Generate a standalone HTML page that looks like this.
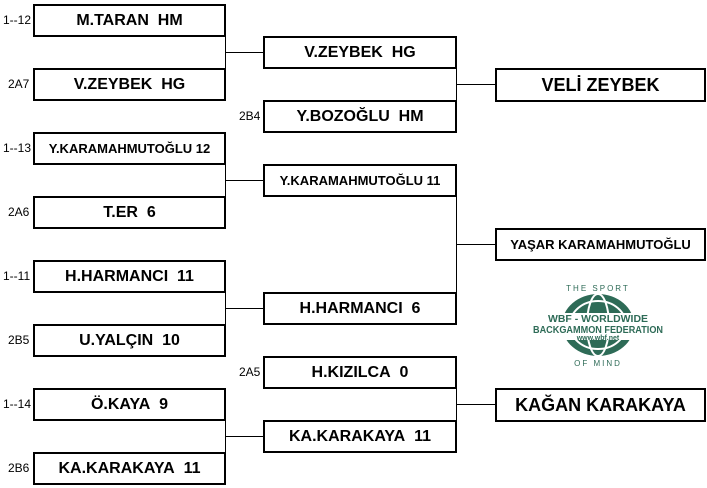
<!DOCTYPE html>
<html><head><meta charset="utf-8"><style>
body{margin:0;width:707px;height:488px;background:#fff;position:relative;overflow:hidden;font-family:"Liberation Sans",Arial,sans-serif}
.b{position:absolute;border:2px solid #000;box-sizing:border-box;display:flex;align-items:center;justify-content:center;font-weight:bold;font-size:16px;color:#000;white-space:nowrap;background:#fff}
.l{position:absolute;font-size:12px;color:#000}
.h{position:absolute;height:1px;background:#000}
.v{position:absolute;width:1px;background:#000}
</style></head><body>
<div class="b" style="left:33px;top:4px;width:193px;height:33px">M.TARAN&nbsp; HM</div>
<div class="b" style="left:33px;top:68px;width:193px;height:33px">V.ZEYBEK&nbsp; HG</div>
<div class="b" style="left:33px;top:132px;width:193px;height:33px;font-size:13px">Y.KARAMAHMUTOĞLU 12</div>
<div class="b" style="left:33px;top:196px;width:193px;height:33px">T.ER&nbsp; 6</div>
<div class="b" style="left:33px;top:260px;width:193px;height:33px">H.HARMANCI&nbsp; 11</div>
<div class="b" style="left:33px;top:324px;width:193px;height:33px">U.YALÇIN&nbsp; 10</div>
<div class="b" style="left:33px;top:388px;width:193px;height:33px">Ö.KAYA&nbsp; 9</div>
<div class="b" style="left:33px;top:452px;width:193px;height:33px">KA.KARAKAYA&nbsp; 11</div>
<div class="l" style="left:3px;top:13px">1--12</div>
<div class="l" style="left:8px;top:77px">2A7</div>
<div class="l" style="left:3px;top:141px">1--13</div>
<div class="l" style="left:8px;top:205px">2A6</div>
<div class="l" style="left:3px;top:269px">1--11</div>
<div class="l" style="left:8px;top:333px">2B5</div>
<div class="l" style="left:3px;top:397px">1--14</div>
<div class="l" style="left:8px;top:461px">2B6</div>
<div class="b" style="left:263px;top:36px;width:194px;height:33px">V.ZEYBEK&nbsp; HG</div>
<div class="b" style="left:263px;top:100px;width:194px;height:33px">Y.BOZOĞLU&nbsp; HM</div>
<div class="b" style="left:263px;top:164px;width:194px;height:33px;font-size:13px">Y.KARAMAHMUTOĞLU 11</div>
<div class="b" style="left:263px;top:292px;width:194px;height:33px">H.HARMANCI&nbsp; 6</div>
<div class="b" style="left:263px;top:356px;width:194px;height:33px">H.KIZILCA&nbsp; 0</div>
<div class="b" style="left:263px;top:420px;width:194px;height:33px">KA.KARAKAYA&nbsp; 11</div>
<div class="l" style="left:239px;top:109px">2B4</div>
<div class="l" style="left:239px;top:365px">2A5</div>
<div class="b" style="left:495px;top:68px;width:211px;height:34px;font-size:18px">VELİ ZEYBEK</div>
<div class="b" style="left:495px;top:228px;width:211px;height:33px;font-size:13px">YAŞAR KARAMAHMUTOĞLU</div>
<div class="b" style="left:495px;top:388px;width:211px;height:34px;font-size:18px">KAĞAN KARAKAYA</div>
<div class="v" style="left:225px;top:20px;height:65px"></div><div class="h" style="left:225px;top:52px;width:38px"></div>
<div class="v" style="left:225px;top:148px;height:65px"></div><div class="h" style="left:225px;top:180px;width:38px"></div>
<div class="v" style="left:225px;top:276px;height:65px"></div><div class="h" style="left:225px;top:308px;width:38px"></div>
<div class="v" style="left:225px;top:404px;height:65px"></div><div class="h" style="left:225px;top:436px;width:38px"></div>
<div class="v" style="left:456px;top:52px;height:65px"></div><div class="h" style="left:456px;top:84px;width:39px"></div>
<div class="v" style="left:456px;top:180px;height:129px"></div><div class="h" style="left:456px;top:244px;width:39px"></div>
<div class="v" style="left:456px;top:372px;height:65px"></div><div class="h" style="left:456px;top:404px;width:39px"></div>
<svg style="position:absolute;left:530px;top:280px" width="140" height="88" viewBox="0 0 140 88">
<ellipse cx="68" cy="45" rx="36" ry="31" fill="#2e6b57"/>
<ellipse cx="68" cy="45" rx="28" ry="24" fill="none" stroke="#fff" stroke-width="2"/>
<ellipse cx="68" cy="45" rx="11" ry="31" fill="none" stroke="#fff" stroke-width="2"/>
<text x="68" y="11" font-size="8" text-anchor="middle" fill="#2e6b57" font-family="Liberation Sans" letter-spacing="2">THE SPORT</text>
<text x="68" y="86" font-size="8" text-anchor="middle" fill="#2e6b57" font-family="Liberation Sans" letter-spacing="2">OF MIND</text>
<rect x="4" y="33" width="132" height="27" fill="#fff"/>
<text x="68" y="42" font-size="10" font-weight="bold" text-anchor="middle" fill="#2e6b57" font-family="Liberation Sans" textLength="100" lengthAdjust="spacingAndGlyphs">WBF - WORLDWIDE</text>
<text x="68" y="53" font-size="10" font-weight="bold" text-anchor="middle" fill="#2e6b57" font-family="Liberation Sans" textLength="130" lengthAdjust="spacingAndGlyphs">BACKGAMMON FEDERATION</text>
<text x="68" y="60" font-size="7" font-weight="bold" text-anchor="middle" fill="#2e6b57" font-family="Liberation Sans">www.wbf.net</text>
</svg>
</body></html>
